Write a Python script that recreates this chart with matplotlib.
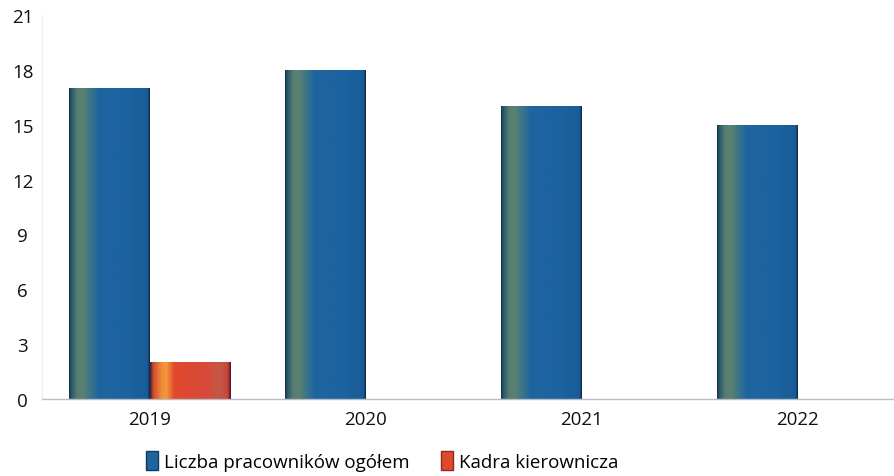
import numpy as np
import matplotlib
matplotlib.use('Agg')
import matplotlib.pyplot as plt
from matplotlib.colors import LinearSegmentedColormap
from matplotlib.patches import Patch

years = ['2019', '2020', '2021', '2022']
ogolem = [17, 18, 16, 15]
kadra = [2, 0, 0, 0]
labels = ['Liczba pracowników ogółem', 'Kadra kierownicza']

plt.rcParams['font.family'] = ['Open Sans', 'DejaVu Sans']

# shading across the bar width (cylinder-like look of the original)
blue_cmap = LinearSegmentedColormap.from_list('blue_bar', [
  (0.0, '#12324a'), (0.03, '#2c5a68'), (0.1, '#557e74'), (0.17, '#5a8272'),
  (0.27, '#3a7488'), (0.36, '#1f66a0'), (0.75, '#1b62a0'), (0.97, '#1a5c98'), (1.0, '#0e2848')])
red_cmap = LinearSegmentedColormap.from_list('red_bar', [
  (0.0, '#3a2030'), (0.04, '#d04a32'), (0.14, '#f08a36'), (0.2, '#f29a3a'),
  (0.3, '#e2482e'), (0.7, '#d84a3a'), (0.85, '#c65848'), (0.96, '#c8463a'), (1.0, '#4a1520')])

fig = plt.figure(figsize=(8.95, 4.77), dpi=100)
fig.patch.set_facecolor('white')
ax = fig.add_axes([42/895, 77/477, 1 - 42/895, (400-16)/477])

x = np.arange(len(years))
w = 0.375
bars1 = ax.bar(x - w/2, ogolem, w, color='none', edgecolor='none')
bars2 = ax.bar(x + w/2, kadra, w, color='none', edgecolor='none')

grad = np.linspace(0, 1, 256).reshape(1, -1)
for bars, cmap in [(bars1, blue_cmap), (bars2, red_cmap)]:
  for b in bars:
    if b.get_height() <= 0:
      continue
    x0, y0 = b.get_x(), b.get_y()
    im = ax.imshow(grad, cmap=cmap, aspect='auto', interpolation='bilinear',
                   extent=(x0, x0 + b.get_width(), y0, y0 + b.get_height()), zorder=2)
    im.set_clip_path(b)

ax.set_xlim(-0.5, 3.45)
ax.set_ylim(0, 21)
ax.set_yticks(np.arange(0, 22, 3))
ax.set_xticks(x)
ax.set_xticklabels(years)
ax.tick_params(axis='both', length=0, labelsize=13.5, colors='#111111')
ax.tick_params(axis='y', pad=14)
ax.tick_params(axis='x', pad=8)
for lab in ax.get_yticklabels():
  lab.set_horizontalalignment('center')

for s in ['top', 'right']:
  ax.spines[s].set_visible(False)
ax.spines['left'].set_color('#eeeeee')
ax.spines['bottom'].set_color('#b8bcc4')
ax.spines['bottom'].set_linewidth(1.0)

handles = [Patch(facecolor='#1f66a0', edgecolor='#143a55'),
           Patch(facecolor='#e0482e', edgecolor='#8a2a20')]
fig.legend(handles, labels, loc='center', bbox_to_anchor=(382/895, 1 - 462/477),
           ncol=2, frameon=False, fontsize=13.5, handlelength=0.65, handleheight=1.2,
           handletextpad=0.3, columnspacing=1.7)

fig.savefig('out.png', dpi=100, facecolor='white')
